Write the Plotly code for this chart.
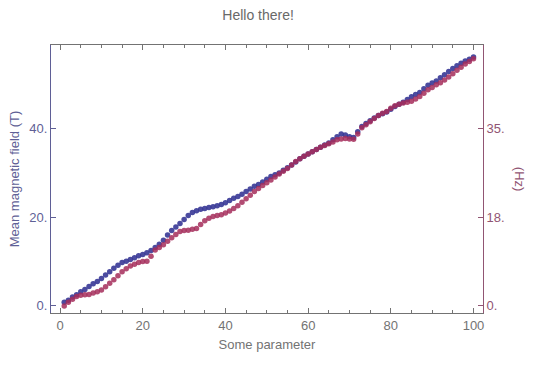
import plotly.graph_objects as go

x_vals = list(range(1, 101))

blue_tesla = [0.8, 1.3, 2.0, 2.5, 3.2, 3.7, 4.4, 5.0, 5.5, 6.2,
              7.0, 7.7, 8.5, 9.2, 9.8, 10.1, 10.5, 10.9, 11.3, 11.6,
              12.0, 12.5, 13.2, 13.9, 14.8, 16.0, 17.0, 17.8, 18.6, 19.5,
              20.4, 21.1, 21.5, 21.8, 22.0, 22.2, 22.4, 22.6, 22.9, 23.3,
              23.8, 24.3, 24.7, 25.2, 25.8, 26.4, 27.0, 27.4, 28.0, 28.6,
              29.2, 29.6, 30.0, 30.6, 31.2, 31.8, 32.5, 33.2, 33.8, 34.3,
              34.8, 35.3, 35.8, 36.3, 36.8, 37.5, 38.2, 38.8, 38.6, 38.2,
              38.0, 39.3, 40.5, 41.2, 41.8, 42.4, 43.0, 43.4, 43.8, 44.4,
              45.0, 45.5, 46.0, 46.6, 47.2, 47.7, 48.2, 49.0, 49.8, 50.3,
              50.8, 51.5, 52.2, 52.9, 53.6, 54.2, 54.8, 55.3, 55.7, 56.2]

# red series, read against the left scale; right axis shows Hz (35 Hz <-> 40 T)
red_read = [0.0, 0.8, 1.5, 2.1, 2.4, 2.5, 2.6, 2.9, 3.2, 3.6,
            4.3, 5.1, 5.9, 6.8, 7.7, 8.4, 9.0, 9.4, 9.8, 10.0,
            10.1, 11.2, 12.6, 13.2, 13.8, 14.6, 15.4, 16.1, 16.8, 17.0,
            17.1, 17.3, 17.5, 18.4, 19.2, 19.8, 20.2, 20.4, 20.6, 21.0,
            21.4, 22.0, 22.6, 23.4, 24.2, 25.0, 25.8, 26.5, 27.2, 27.8,
            28.4, 29.1, 29.8, 30.4, 31.0, 31.8, 32.6, 33.2, 33.8, 34.3,
            34.8, 35.3, 35.8, 36.2, 36.6, 37.0, 37.5, 37.7, 37.8, 37.7,
            37.6, 38.8, 40.2, 40.9, 41.6, 42.3, 43.0, 43.5, 43.9, 44.6,
            45.2, 45.5, 45.8, 46.0, 46.2, 46.7, 47.3, 48.0, 48.8, 49.3,
            49.9, 50.4, 51.0, 51.7, 52.4, 53.2, 53.9, 54.6, 55.2, 55.8]
HZ_PER_T = 35.0 / 40.0
red_hz = [v * HZ_PER_T for v in red_read]

x_ticks = [0, 20, 40, 60, 80, 100]
y_ticks = [0, 20, 40]
y_ticktext = ["0.", "20.", "40."]
y2_ticks = [0, 17.5, 35]
y2_ticktext = ["0.", "18.", "35."]

y_range = [-1.6, 58.9]
y2_range = [y_range[0] * HZ_PER_T, y_range[1] * HZ_PER_T]

blue_c = "rgb(55,55,150)"
red_c = "rgb(165,45,90)"
left_axis_c = "rgb(95,95,150)"
right_axis_c = "rgb(145,85,115)"
gray = "rgb(115,115,115)"
font = "Liberation Sans, Arial, sans-serif"

fig = go.Figure()
fig.add_trace(go.Scatter(x=x_vals, y=blue_tesla, mode="markers",
                         marker=dict(color=blue_c, size=5.5, opacity=0.9),
                         yaxis="y", showlegend=False))
fig.add_trace(go.Scatter(x=x_vals, y=red_hz, mode="markers",
                         marker=dict(color=red_c, size=5.5, opacity=0.85),
                         yaxis="y2", showlegend=False))

fig.update_layout(
    width=540, height=365,
    margin=dict(l=51, r=57, t=45, b=52, autoexpand=False),
    paper_bgcolor="white", plot_bgcolor="white",
    font=dict(family=font, size=12, color=gray),
    title=dict(text="Hello there!", x=0.478, xanchor="center", y=0.959, yanchor="middle",
               font=dict(size=14, color="rgb(105,105,105)")),
    xaxis=dict(range=[-2.2, 102.3], tickvals=x_ticks, ticks="inside", ticklen=5,
               tickcolor=gray, showline=True, linecolor=gray, linewidth=1,
               mirror="ticks", showgrid=False, zeroline=False, automargin=False,
               tickfont=dict(size=13, color=gray),
               minor=dict(ticks="inside", dtick=5, tick0=0, ticklen=3, tickcolor=gray, showgrid=False),
               title=dict(text="Some parameter", font=dict(size=13, color=gray), standoff=8)),
    yaxis=dict(range=y_range, tickvals=y_ticks, ticktext=y_ticktext, ticks="inside",
               ticklen=5, tickcolor=left_axis_c, showline=True, linecolor=left_axis_c,
               linewidth=1, showgrid=False, zeroline=False, automargin=False,
               tickfont=dict(size=13, color=left_axis_c),
               title=dict(text="Mean magnetic field (T)", font=dict(size=13, color=left_axis_c),
                          standoff=6)),
    yaxis2=dict(range=y2_range, overlaying="y", side="right", tickvals=y2_ticks,
                ticktext=y2_ticktext, ticks="inside", ticklen=5, tickcolor=right_axis_c,
                showline=True, linecolor=right_axis_c, linewidth=1, showgrid=False,
                zeroline=False, automargin=False, tickfont=dict(size=13, color=right_axis_c)),
    annotations=[dict(text="(Hz)", xref="paper", yref="paper", x=1.086, y=0.5,
                      xanchor="center", yanchor="middle",
                      textangle=90, showarrow=False,
                      font=dict(size=13, color=right_axis_c, family=font))],
)

fig.write_html("out.html", config={"displayModeBar": False},
               post_script="document.body.style.margin='0';")
